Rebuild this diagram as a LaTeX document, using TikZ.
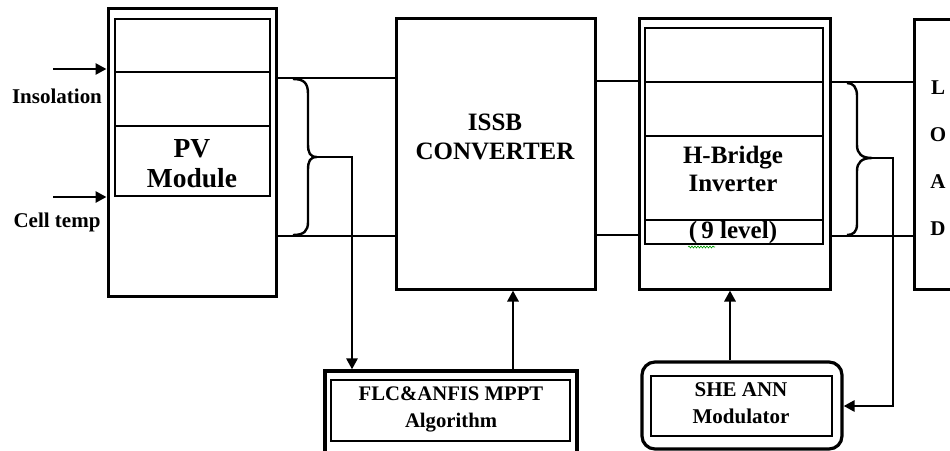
\documentclass[tikz,border=0pt]{standalone}
\usepackage{fontspec}
\setmainfont{Liberation Serif}
\usetikzlibrary{
	positioning,
	calc,
	arrows.meta,
	decorations.pathmorphing
}

\begin{document}
\begin{tikzpicture}[
	x=1pt,y=-1pt,
	c_box/.style={
		draw,
		line width=3pt,
		inner sep=0pt
	},
	c_inner/.style={
		draw,
		line width=1.4pt,
		inner sep=0pt
	},
	c_wire/.style={
		line width=2.8pt
	},
	c_arrow/.style={
		line width=2.8pt,
		-{Triangle[length=11pt,width=11pt]}
	},
	c_brace/.style={
		line width=2.4pt
	},
	c_text/.style={
		align=center,
		font=\fontsize{25}{29}\selectfont\bfseries
	},
	c_small/.style={
		align=center,
		font=\fontsize{21}{27}\selectfont\bfseries
	}
	]
	
	\clip (0,0) rectangle (950,450);
	
	% =========================================================================
	% 1. PV MODULE
	% =========================================================================
	
	\node[c_box,minimum width=168pt,minimum height=288pt] (pv) at (192,152) {};
	\node[c_inner,minimum width=155pt,minimum height=177pt] (pv_in) at (192.5,107.5) {};
	
	\draw[line width=1.4pt] (115,72)--(270,72);
	\draw[line width=1.4pt] (115,126)--(270,126);
	
	\node[c_text,font=\fontsize{27.5}{30}\selectfont\bfseries]
	(pv_txt) at (192,164) {PV\\Module};
	
	% Inputs
	\coordinate (ins) at (53,69);
	\coordinate (cell) at (53,197);
	
	\draw[c_arrow] (ins)--(ins -| pv.west);
	\draw[c_arrow] (cell)--(cell -| pv.west);
	
	\node[c_small] (ins_txt) at (57,96) {Insolation};
	\node[c_small] (cell_txt) at (57,222) {Cell temp};
	
	% =========================================================================
	% 2. ISSB CONVERTER
	% =========================================================================
	
	\node[c_box,minimum width=199pt,minimum height=271pt] (issb) at (495.5,153.5) {};
	
	\node[c_text] (issb_txt) at (495,137) {ISSB\\CONVERTER};
	
	% =========================================================================
	% 3. H-BRIDGE INVERTER
	% =========================================================================
	
	\node[c_box,minimum width=191pt,minimum height=271pt] (hb) at (734.5,153.5) {};
	\node[c_inner,minimum width=178pt,minimum height=216pt] (hb_in) at (734,136) {};
	
	\foreach \y in {82,136,220}
	{
		\draw[line width=1.4pt] (645,\y)--(823,\y);
	}
	
	\node[c_text,font=\fontsize{25}{28}\selectfont\bfseries]
	(hb_txt) at (733,169) {H-Bridge\\Inverter};
	
	\node[c_text,font=\fontsize{25}{28}\selectfont\bfseries]
	(hb_lvl) at (733,232) {(\,9 level)};
	
	% spell check mark
	\draw[green!60!black,line width=0.6pt,decorate,
	decoration={snake,amplitude=1pt,segment length=3pt}]
	(688,247)--(715,247);
	
	% =========================================================================
	% 4. LOAD
	% =========================================================================
	
	\node[c_box,minimum width=60pt,minimum height=270pt,anchor=north west] (load) at (913,18) {};
	
	\foreach \ch/\yy in {L/88,O/135,A/182,D/229}
	{
		\node[c_small] (load_\ch) at (938,\yy) {\ch};
	}
	
	% =========================================================================
	% 5. CONTROL BLOCKS
	% =========================================================================
	
	\node[c_box,line width=3.2pt,minimum width=252pt,minimum height=84pt] (flc) at (451,413) {};
	\node[c_inner,minimum width=239pt,minimum height=61pt] (flc_in) at (450.5,410.5) {};
	
	\node[c_small,font=\fontsize{20.7}{27}\selectfont\bfseries]
	(flc_txt) at (451,409) {FLC\&ANFIS MPPT\\Algorithm};
	
	\node[c_box,line width=3.2pt,rounded corners=13pt,minimum width=200pt,minimum height=87pt] (she) at (742,405.5) {};
	\node[c_inner,minimum width=181pt,minimum height=60pt] (she_in) at (741.5,406) {};
	
	\node[c_small] (she_txt) at (741,403) {SHE ANN\\Modulator};
	
	% =========================================================================
	% 6. DC / AC LINES
	% =========================================================================
	
	\coordinate (bus_a) at (0,78);
	\coordinate (bus_b) at (0,236);
	\coordinate (bus_c) at (0,81);
	\coordinate (bus_d) at (0,235);
	\coordinate (bus_e) at (0,82);
	
	\draw[c_wire] (pv.east |- bus_a)--(issb.west |- bus_a);
	\draw[c_wire] (pv.east |- bus_b)--(issb.west |- bus_b);
	
	\draw[c_wire] (issb.east |- bus_c)--(hb.west |- bus_c);
	\draw[c_wire] (issb.east |- bus_d)--(hb.west |- bus_d);
	
	\draw[c_wire] (hb.east |- bus_e)--(load.west |- bus_e);
	\draw[c_wire] (hb.east |- bus_b)--(load.west |- bus_b);
	
	% Braces
	\coordinate (tip_a) at (317,157);
	\coordinate (tip_b) at (872,158);
	
	\draw[c_brace]
	(293,79) .. controls (304,79) and (308,83) .. (308,94)
	--(308,144) .. controls (308,153) and (310,157) .. (tip_a)
	.. controls (310,157) and (308,161) .. (308,170)
	--(308,222) .. controls (308,231) and (304,235) .. (293,235);
	
	\draw[c_brace]
	(847,83) .. controls (853,83) and (857,87) .. (857,96)
	--(857,145) .. controls (857,154) and (862,158) .. (tip_b)
	.. controls (862,158) and (857,162) .. (857,171)
	--(857,224) .. controls (857,232) and (853,235) .. (847,235);
	
	% =========================================================================
	% 7. FEEDBACK ARROWS
	% =========================================================================
	
	\coordinate (fb_a) at (352,157);
	\coordinate (fb_b) at (893,158);
	\coordinate (fb_c) at (893,406);
	\coordinate (up_a) at (513,0);
	\coordinate (up_b) at (730,0);
	
	\draw[c_arrow] (tip_a)--(fb_a)--(fb_a |- flc.north);
	\draw[c_arrow] (flc.north -| up_a)--(issb.south -| up_a);
	
	\draw[c_arrow] (she.north -| up_b)--(hb.south -| up_b);
	\draw[c_arrow] (tip_b)--(fb_b)--(fb_c)--(she.east |- fb_c);
	
\end{tikzpicture}
\end{document}
